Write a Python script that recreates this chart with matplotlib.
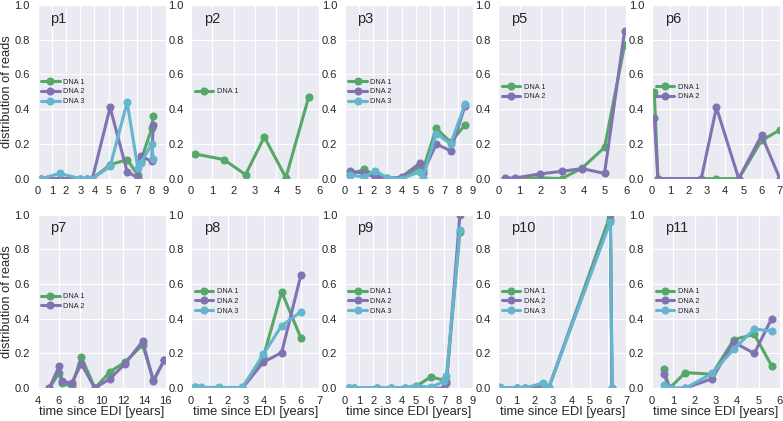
import matplotlib
matplotlib.use('Agg')
import matplotlib.pyplot as plt
import seaborn as sns
import numpy as np

sns.set_style('darkgrid')
plt.rcParams['font.family'] = ['Liberation Sans', 'DejaVu Sans']

# colours of the old seaborn "deep" palette
green, purple, cyan = '#55A868', '#8172B2', '#64B5CD'

# values (time since EDI in years, fraction of reads)
p1_t = [0.25, 1.55, 3.0, 3.5, 3.85, 5.1, 6.3, 7.05, 7.25, 8.03, 8.13]
p1_dna1 = [0, 0, 0, 0, 0, 0.08, 0.11, 0.02, 0.10, 0.29, 0.36]
p1_dna2 = [0, 0, 0, 0, 0, 0.41, 0.04, 0.005, 0.13, 0.10, 0.31]
p1_dna3 = [0, 0.03, 0, 0, 0, 0.07, 0.44, 0.06, 0.09, 0.20, 0.115]

p2_t = [0.19, 1.53, 2.55, 3.43, 4.44, 5.51]
p2_dna1 = [0.142, 0.11, 0.023, 0.24, 0.006, 0.47]

p3_t = [0.4, 1.33, 2.15, 3.0, 4.0, 5.3, 5.5, 6.43, 7.45, 8.46]
p3_dna1 = [0.02, 0.055, 0.02, 0.005, 0, 0.07, 0.05, 0.29, 0.21, 0.31]
p3_dna2 = [0.045, 0.03, 0.01, 0, 0.01, 0.09, 0.03, 0.20, 0.16, 0.42]
p3_dna3 = [0.02, 0.01, 0.045, 0.005, 0, 0.04, 0.005, 0.26, 0.20, 0.43]

p5_t = [0.32, 0.8, 1.94, 2.97, 3.92, 4.98, 5.92]
p5_dna1 = [0, 0, 0.005, 0, 0.06, 0.18, 0.77]
p5_dna2 = [0.004, 0.004, 0.027, 0.042, 0.058, 0.03, 0.85]

p6_t = [0.13, 0.33, 2.7, 3.53, 4.75, 6.0, 7.0]
p6_dna1 = [0.5, 0, 0, 0, 0, 0.22, 0.28]
p6_dna2 = [0.35, 0, 0, 0.41, 0, 0.25, 0]

p7_t = [5.1, 6.05, 6.27, 7.2, 8.1, 9.37, 10.8, 12.2, 13.85, 14.86, 15.9]
p7_dna1 = [0, 0.09, 0.03, 0.01, 0.18, 0, 0.095, 0.15, 0.25, 0.045, 0.165]
p7_dna2 = [0, 0.13, 0.04, 0.03, 0.14, 0, 0.055, 0.14, 0.27, 0.04, 0.165]

p8_t = [0.22, 0.55, 1.55, 2.8, 3.95, 4.95, 6.0]
p8_dna1 = [0.008, 0, 0, 0, 0.18, 0.555, 0.29]
p8_dna2 = [0, 0, 0, 0, 0.15, 0.205, 0.65]
p8_dna3 = [0.008, 0.004, 0.004, 0.004, 0.195, 0.36, 0.44]

p9_t = [0.28, 0.63, 2.27, 3.27, 4.25, 5.0, 6.06, 7.0, 7.15, 8.1]
p9_dna1 = [0, 0, 0, 0, 0.003, 0.01, 0.065, 0.045, 0.04, 0.9]
p9_dna2 = [0, 0, 0, 0, 0, 0.005, 0, 0, 0.03, 1.0]
p9_dna3 = [0.003, 0.003, 0.002, 0.002, 0.003, 0.015, 0.005, 0.04, 0.07, 0.91]

p10_t = [0.09, 1.0, 1.44, 2.45, 2.76, 6.13, 6.22]
p10_dna1 = [0, 0, 0, 0.005, 0, 1.0, 0]
p10_dna2 = [0.003, 0, 0, 0.02, 0.003, 0.97, 0]
p10_dna3 = [0.005, 0, 0, 0.03, 0.005, 0.96, 0]

p11_t = [0.56, 0.83, 1.57, 2.82, 3.84, 4.8, 5.61]
p11_dna1 = [0.11, 0, 0.09, 0.08, 0.28, 0.31, 0.13]
p11_dna2 = [0.08, 0, 0, 0.055, 0.265, 0.20, 0.40]
p11_dna3 = [0.017, 0, 0, 0.085, 0.225, 0.34, 0.33]

panels = [
    ('p1', p1_t, [p1_dna1, p1_dna2, p1_dna3], (0, 9), 1),
    ('p2', p2_t, [p2_dna1], (0, 6), 1),
    ('p3', p3_t, [p3_dna1, p3_dna2, p3_dna3], (0, 9), 1),
    ('p5', p5_t, [p5_dna1, p5_dna2], (0, 6), 1),
    ('p6', p6_t, [p6_dna1, p6_dna2], (0, 7), 1),
    ('p7', p7_t, [p7_dna1, p7_dna2], (4, 16), 2),
    ('p8', p8_t, [p8_dna1, p8_dna2, p8_dna3], (0, 7), 1),
    ('p9', p9_t, [p9_dna1, p9_dna2, p9_dna3], (0, 9), 1),
    ('p10', p10_t, [p10_dna1, p10_dna2, p10_dna3], (0, 7), 1),
    ('p11', p11_t, [p11_dna1, p11_dna2, p11_dna3], (0, 6), 1),
]
colors = [green, purple, cyan]

fig, axes = plt.subplots(2, 5, figsize=(7.83, 4.21), dpi=100)
fig.subplots_adjust(left=0.048, right=0.996, bottom=0.078, top=0.988,
                    wspace=0.2, hspace=0.207)

for ax, (name, t, series, xlim, step) in zip(axes.flat, panels):
    for i, vals in enumerate(series):
        ax.plot(t, vals, '-o', color=colors[i], lw=2.2, ms=4.8,
                label='DNA %d' % (i + 1))
    ax.set_xlim(*xlim)
    ax.set_ylim(0, 1)
    ax.set_xticks(np.arange(xlim[0], xlim[1] + 1, step))
    ax.set_yticks(np.arange(0, 1.01, 0.2))
    ax.yaxis.set_major_formatter(plt.FormatStrFormatter('%.1f'))
    ax.tick_params(labelsize=8.0, pad=2)
    ax.text(0.1, 0.92, name, transform=ax.transAxes, fontsize=10.5,
            va='center', color='#262626')
    ax.legend(loc='center left', bbox_to_anchor=(0, 0.5), fontsize=5.3,
              frameon=False, handlelength=2.5, handletextpad=0.5,
              labelspacing=0.35, borderaxespad=0.1)

for ax in axes[:, 0]:
    ax.set_ylabel('distribution of reads', fontsize=9.3)
    ax.yaxis.set_label_coords(-0.19, 0.5)
for ax in axes[1]:
    ax.set_xlabel('time since EDI [years]', fontsize=9.3)
    ax.xaxis.set_label_coords(0.5, -0.105)

fig.savefig('out.png', dpi=100)
